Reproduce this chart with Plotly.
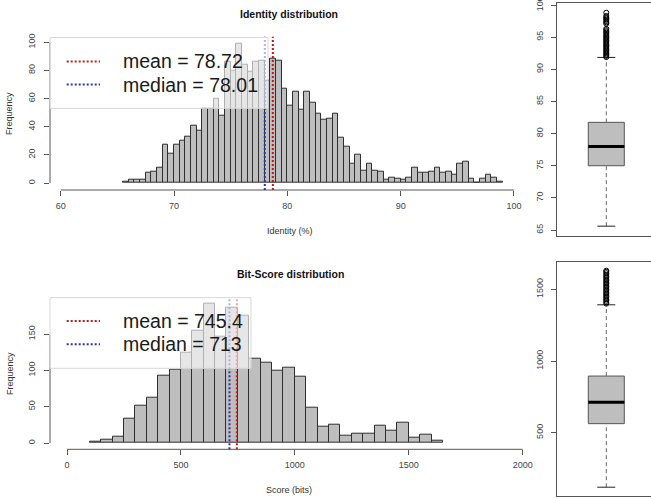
import plotly.graph_objects as go

W, H = 651, 499

# ---------------- data ----------------
identity_bin_start = 65.5
identity_bin_width = 0.5
identity_counts = [1, 2, 2, 2, 7, 8, 11, 27, 21, 27,
                   30, 33, 41, 37, 53, 53, 60, 48, 86, 80,
                   99, 84, 79, 86, 87, 73, 88, 87, 67, 55,
                   65, 52, 65, 57, 49, 45, 46, 49, 32, 26,
                   14, 20, 9, 14, 9, 8, 2, 4, 3, 2,
                   4, 11, 7, 7, 8, 11, 7, 8, 6, 14,
                   15, 3, 0, 3, 6, 4, 1]
identity_mean = 78.72
identity_median = 78.01
identity_xticks = [60, 70, 80, 90, 100]
identity_yticks = [0, 20, 40, 60, 80, 100]

bitscore_bin_start = 100
bitscore_bin_width = 50
bitscore_counts = [2, 5, 9, 33, 51, 62, 92, 101, 125, 155,
                   192, 146, 186, 175, 116, 110, 99, 104, 91, 49,
                   22, 25, 10, 13, 13, 24, 17, 28, 7, 12, 3]
bitscore_mean = 745.4
bitscore_median = 713
bitscore_xticks = [0, 500, 1000, 1500, 2000]
bitscore_yticks = [0, 50, 100, 150]

# boxplot statistics
identity_q1, identity_q3 = 75.0, 81.75
identity_whisker_low, identity_whisker_high = 65.6, 91.85
identity_outliers = [91.9, 92.1, 92.3, 92.5, 92.7, 92.9, 93.1, 93.3, 93.5, 93.7,
                     93.9, 94.1, 94.3, 94.5, 94.7, 94.9, 95.1, 95.3, 95.5, 95.7,
                     95.9, 96.1, 96.3, 97.1, 97.3, 97.5, 97.7, 97.9, 98.1, 98.3, 98.8]
identity_box_ticks = [65, 70, 75, 80, 85, 90, 95, 100]

bitscore_q1, bitscore_q3 = 563, 895
bitscore_whisker_low, bitscore_whisker_high = 120, 1392
bitscore_outliers = [1400, 1410, 1420, 1430, 1440, 1450, 1460, 1470, 1480, 1490,
                     1500, 1510, 1520, 1530, 1540, 1550, 1560, 1570, 1580, 1590,
                     1600, 1612, 1622, 1630]
bitscore_box_ticks = [500, 1000, 1500]

# ---------------- helpers ----------------
def PX(p):
    return p / W

def PY(p):
    return 1 - p / H

FONT = "Liberation Sans, Arial, sans-serif"
BAR_FILL = "#bebebe"
BAR_LINE = "#2e2e2e"
AXIS_COL = "#555555"
TICK_FONT = dict(family=FONT, size=9, color="#444444")
RED = "#c01818"
BLUE = "#2a35b5"

identity_centers = [identity_bin_start + identity_bin_width * (i + 0.5) for i in range(len(identity_counts))]
bitscore_centers = [bitscore_bin_start + bitscore_bin_width * (i + 0.5) for i in range(len(bitscore_counts))]

fig = go.Figure()

# histograms
fig.add_trace(go.Bar(x=identity_centers, y=identity_counts, width=identity_bin_width,
                     marker=dict(color=BAR_FILL, line=dict(color=BAR_LINE, width=1)),
                     xaxis="x", yaxis="y", showlegend=False, hoverinfo="skip"))
fig.add_trace(go.Bar(x=bitscore_centers, y=bitscore_counts, width=bitscore_bin_width,
                     marker=dict(color=BAR_FILL, line=dict(color=BAR_LINE, width=1)),
                     xaxis="x2", yaxis="y2", showlegend=False, hoverinfo="skip"))

# boxplots
def add_box(xa, ya, q1, med, q3, wlo, whi, outliers):
    # whiskers (dashed)
    fig.add_trace(go.Scatter(x=[0, 0], y=[q3, whi], mode="lines",
                             line=dict(color="#666666", width=1, dash="4px,3px"),
                             xaxis=xa, yaxis=ya, showlegend=False, hoverinfo="skip"))
    fig.add_trace(go.Scatter(x=[0, 0], y=[wlo, q1], mode="lines",
                             line=dict(color="#666666", width=1, dash="4px,3px"),
                             xaxis=xa, yaxis=ya, showlegend=False, hoverinfo="skip"))
    # caps
    for v in (wlo, whi):
        fig.add_trace(go.Scatter(x=[-0.25, 0.25], y=[v, v], mode="lines",
                                 line=dict(color="#222222", width=1),
                                 xaxis=xa, yaxis=ya, showlegend=False, hoverinfo="skip"))
    # box
    fig.add_trace(go.Box(x=[0], q1=[q1], median=[med], q3=[q3],
                         lowerfence=[q1], upperfence=[q3], width=1,
                         fillcolor=BAR_FILL, line=dict(color=AXIS_COL, width=1),
                         whiskerwidth=0, boxpoints=False,
                         xaxis=xa, yaxis=ya, showlegend=False, hoverinfo="skip"))
    # median
    fig.add_trace(go.Scatter(x=[-0.5, 0.5], y=[med, med], mode="lines",
                             line=dict(color="#000000", width=3),
                             xaxis=xa, yaxis=ya, showlegend=False, hoverinfo="skip"))
    # outliers
    fig.add_trace(go.Scatter(x=[0] * len(outliers), y=outliers, mode="markers",
                             marker=dict(symbol="circle-open", size=5, color="#000000",
                                         line=dict(width=1, color="#000000")),
                             xaxis=xa, yaxis=ya, showlegend=False, hoverinfo="skip"))

add_box("x3", "y3", identity_q1, identity_median, identity_q3,
        identity_whisker_low, identity_whisker_high, identity_outliers)
add_box("x4", "y4", bitscore_q1, bitscore_median, bitscore_q3,
        bitscore_whisker_low, bitscore_whisker_high, bitscore_outliers)

hist_axis_common = dict(showgrid=False, zeroline=False, ticks="outside",
                        ticklen=5, tickcolor=AXIS_COL, tickfont=TICK_FONT,
                        ticklabeloverflow="allow", automargin=False)
box_x_common = dict(showgrid=False, zeroline=False, showticklabels=False, ticks="",
                    showline=True, mirror=True, linecolor=AXIS_COL, linewidth=1,
                    automargin=False)

layout = dict(
    width=W, height=H, margin=dict(l=0, r=0, t=0, b=0, autoexpand=False),
    paper_bgcolor="white", plot_bgcolor="white", showlegend=False, bargap=0,
    xaxis=dict(domain=[PX(50), PX(532)], range=[59.056, 101.59], anchor="y", showline=False,
               tickvals=identity_xticks, ticklabelstandoff=2, **hist_axis_common),
    yaxis=dict(domain=[PY(190), PY(36.7)], range=[-4.975, 103.98], anchor="x", showline=False,
               tickvals=identity_yticks, tickangle=-90, ticklabelstandoff=5, **hist_axis_common),
    xaxis2=dict(domain=[PX(50), PX(532)], range=[-74.6, 2040.8], anchor="y2", showline=False,
                tickvals=bitscore_xticks, ticklabelstandoff=2, **hist_axis_common),
    yaxis2=dict(domain=[PY(449.3), PY(297.7)], range=[-8.68, 200.1], anchor="x2", showline=False,
                tickvals=bitscore_yticks, tickangle=-90, ticklabelstandoff=5, **hist_axis_common),
    xaxis3=dict(domain=[PX(557.3), 1], range=[-1.361, 1.242], anchor="y3", **box_x_common),
    yaxis3=dict(domain=[PY(236), PY(2.7)], range=[64.07, 100.36], anchor="x3",
                tickvals=identity_box_ticks, tickangle=-90, showline=True, linecolor=AXIS_COL,
                linewidth=1, ticklabelstandoff=5, **hist_axis_common),
    xaxis4=dict(domain=[PX(557.3), 1], range=[-1.361, 1.242], anchor="y4", **box_x_common),
    yaxis4=dict(domain=[PY(496), PY(262.3)], range=[58.6, 1688.3], anchor="x4",
                tickvals=bitscore_box_ticks, tickangle=-90, showline=True, linecolor=AXIS_COL,
                linewidth=1, ticklabelstandoff=5, **hist_axis_common),
)
fig.update_layout(**layout)

shapes = []
# R-style axis lines spanning the tick range
shapes.append(dict(type="line", xref="x", yref="paper", x0=min(identity_xticks), x1=max(identity_xticks),
                   y0=PY(190), y1=PY(190), line=dict(color=AXIS_COL, width=1)))
shapes.append(dict(type="line", xref="paper", yref="y", x0=PX(50), x1=PX(50),
                   y0=min(identity_yticks), y1=max(identity_yticks), line=dict(color=AXIS_COL, width=1)))
shapes.append(dict(type="line", xref="x2", yref="paper", x0=min(bitscore_xticks), x1=max(bitscore_xticks),
                   y0=PY(449.3), y1=PY(449.3), line=dict(color=AXIS_COL, width=1)))
shapes.append(dict(type="line", xref="paper", yref="y2", x0=PX(50), x1=PX(50),
                   y0=min(bitscore_yticks), y1=max(bitscore_yticks), line=dict(color=AXIS_COL, width=1)))

DOT = "2px,2px"
# mean / median lines
for xr, yr, val, col in (("x", "y domain", identity_median, BLUE), ("x", "y domain", identity_mean, RED),
                         ("x2", "y2 domain", bitscore_median, BLUE), ("x2", "y2 domain", bitscore_mean, RED)):
    shapes.append(dict(type="line", xref=xr, yref=yr, x0=val, x1=val, y0=0, y1=1,
                       line=dict(color=col, width=2, dash=DOT)))

# legend boxes (semi-transparent)
LEG_FILL = "rgba(255,255,255,0.62)"
LEG_LINE = "rgba(215,215,215,1)"
shapes.append(dict(type="rect", xref="paper", yref="paper", x0=PX(50), x1=PX(268),
                   y0=PY(108.3), y1=PY(37.5), fillcolor=LEG_FILL, line=dict(color=LEG_LINE, width=1)))
shapes.append(dict(type="rect", xref="paper", yref="paper", x0=PX(50), x1=PX(251),
                   y0=PY(368.3), y1=PY(297.7), fillcolor=LEG_FILL, line=dict(color=LEG_LINE, width=1)))
for yy, col in ((61.5, RED), (84.5, BLUE), (321, RED), (344.3, BLUE)):
    shapes.append(dict(type="line", xref="paper", yref="paper", x0=PX(66.7), x1=PX(100),
                       y0=PY(yy), y1=PY(yy), line=dict(color=col, width=2, dash=DOT)))

annotations = []
LEG_FONT = dict(family=FONT, size=19.5, color="#1a1a1a")
for yy, txt in ((61.5, f"mean = {identity_mean}"), (84.8, f"median = {identity_median}"),
                (321, f"mean = {bitscore_mean}"), (344.3, f"median = {bitscore_median}")):
    annotations.append(dict(text=txt, xref="paper", yref="paper", x=PX(120.5), y=PY(yy),
                            xanchor="left", yanchor="middle", showarrow=False, font=LEG_FONT))

TITLE_FONT = dict(family=FONT, size=10.5, color="#111111")
LAB_FONT = dict(family=FONT, size=9, color="#333333")
annotations += [
    dict(text="<b>Identity distribution</b>", xref="paper", yref="paper", x=PX(289), y=PY(14),
         xanchor="center", yanchor="middle", showarrow=False, font=TITLE_FONT),
    dict(text="<b>Bit-Score distribution</b>", xref="paper", yref="paper", x=PX(290), y=PY(274),
         xanchor="center", yanchor="middle", showarrow=False, font=TITLE_FONT),
    dict(text="Identity (%)", xref="paper", yref="paper", x=PX(290), y=PY(230.5),
         xanchor="center", yanchor="middle", showarrow=False, font=LAB_FONT),
    dict(text="Score (bits)", xref="paper", yref="paper", x=PX(289), y=PY(490),
         xanchor="center", yanchor="middle", showarrow=False, font=LAB_FONT),
    dict(text="Frequency", xref="paper", yref="paper", x=PX(9.5), y=PY(113.5), textangle=-90,
         xanchor="center", yanchor="middle", showarrow=False, font=LAB_FONT),
    dict(text="Frequency", xref="paper", yref="paper", x=PX(9.5), y=PY(373.5), textangle=-90,
         xanchor="center", yanchor="middle", showarrow=False, font=LAB_FONT),
]

fig.update_layout(shapes=shapes, annotations=annotations)
fig.write_html("out.html", config={"displayModeBar": False})
